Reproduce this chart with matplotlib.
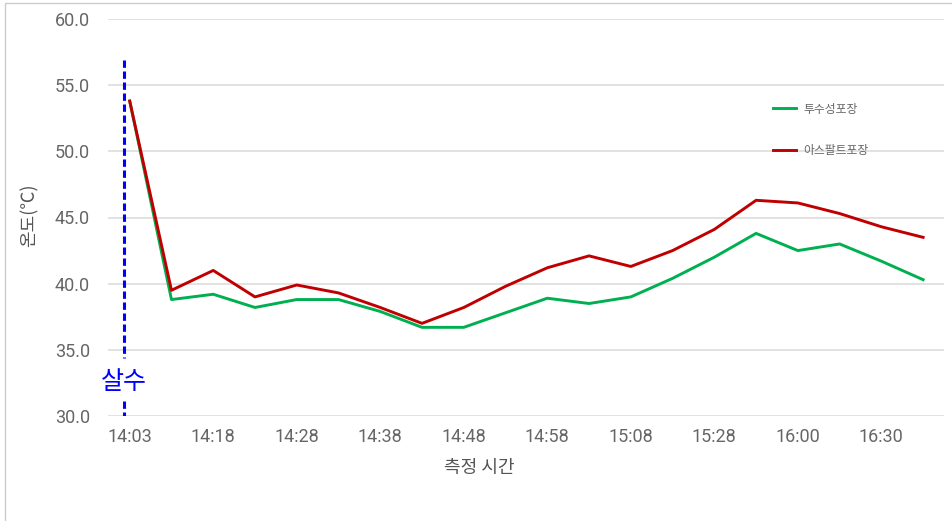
import matplotlib
matplotlib.use("Agg")
import matplotlib.pyplot as plt
from matplotlib.patches import Rectangle

plt.rcParams['font.family'] = ['Noto Sans CJK KR', 'DejaVu Sans']

# measured temperatures, every 2nd sample gets a time label
permeable = [53.8, 38.8, 39.2, 38.2, 38.8, 38.8, 37.9, 36.7, 36.7, 37.8,
             38.9, 38.5, 39.0, 40.4, 42.0, 43.8, 42.5, 43.0, 41.7, 40.3]
asphalt = [53.8, 39.5, 41.0, 39.0, 39.9, 39.3, 38.2, 37.0, 38.2, 39.8,
           41.2, 42.1, 41.3, 42.5, 44.1, 46.3, 46.1, 45.3, 44.3, 43.5]
tick_labels = ['14:03', '14:18', '14:28', '14:38', '14:48',
               '14:58', '15:08', '15:28', '16:00', '16:30']
y_ticks = [30, 35, 40, 45, 50, 55, 60]

x = list(range(len(permeable)))

fig = plt.figure(figsize=(9.53, 5.21), dpi=100)
ax = fig.add_axes([108/953, 1-416/521, (944-108)/953, 397/521])

ax.plot(x, permeable, color='#00B050', lw=2.1, label='투수성포장')
ax.plot(x, asphalt, color='#C00000', lw=2.1, label='아스팔트포장')

# 살수 marker line with gap for the label
ax.plot([-0.14, -0.14], [56.9, 34.4], color='#0000FF', lw=2.2, ls=(0, (2.4, 1.2)))
ax.plot([-0.14, -0.14], [31.1, 30.0], color='#0000FF', lw=2.2, ls=(0, (2.4, 1.2)))
ax.text(-0.14, 32.6, '살수', color='#0000FF', fontsize=18, ha='center', va='center')

ax.set_xlim(-0.52, 19.5)
ax.set_ylim(30, 60)
ax.set_yticks(y_ticks)
ax.set_yticklabels([f'{v:.1f}' for v in y_ticks])
ax.set_xticks(x[::2])
ax.set_xticklabels(tick_labels)
ax.tick_params(length=0, labelsize=13, colors='#666666')
ax.tick_params(axis='y', pad=13)
ax.tick_params(axis='x', pad=9)
for lbl in ax.get_xticklabels() + ax.get_yticklabels():
    lbl.set_family(['Roboto', 'DejaVu Sans'])
ax.grid(axis='y', color='#DDDDDD', lw=1.2)
ax.set_axisbelow(True)
for s in ax.spines.values():
    s.set_visible(False)

ax.set_ylabel('온도(℃)', fontsize=13, color='#555555')
ax.yaxis.set_label_coords(-0.0825, 0.506)
ax.set_xlabel('측정 시간', fontsize=13, color='#555555')
ax.xaxis.set_label_coords(0.444, -0.108)

leg = ax.legend(loc='upper left', bbox_to_anchor=(762/953, 1-92/521),
                bbox_transform=fig.transFigure, frameon=False, fontsize=8.5,
                handlelength=2.0, handletextpad=0.6, labelspacing=2.4)
for t in leg.get_texts():
    t.set_color('#666666')

fig.patches.append(Rectangle((5/953, -0.01), 1.0, 1-3/521+0.01, transform=fig.transFigure,
                             fill=False, edgecolor='#CCCCCC', lw=1))

fig.savefig('out.png', dpi=100)
